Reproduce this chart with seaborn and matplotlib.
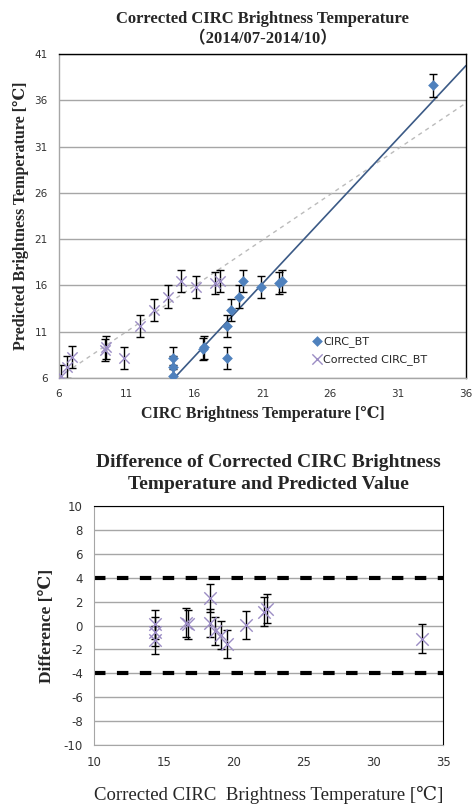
import numpy as np
import pandas as pd
import matplotlib
matplotlib.use("Agg")
import matplotlib.pyplot as plt
import seaborn as sns

# =====================
# DATA
# =====================
circ_x = [14.4, 14.4, 14.4, 16.6, 16.7, 18.35, 18.35, 18.7, 19.3, 19.55, 20.9, 22.2, 22.45, 33.55]
circ_y = [6.2, 7.2, 8.2, 9.1, 9.3, 8.2, 11.6, 13.35, 14.8, 16.45, 15.8, 16.3, 16.45, 37.6]

corr_x = [6.15, 6.57, 6.93, 9.4, 9.45, 10.77, 12.0, 12.99, 14.05, 14.96, 16.07, 17.5, 17.87]
corr_y = [6.2, 7.2, 8.3, 9.0, 9.3, 8.2, 11.6, 13.35, 14.8, 16.45, 15.8, 16.3, 16.45]

top_err = 1.2

# trend lines (slope, intercept)
circ_fit = (1.57, -16.77)
corr_fit = (0.987, 0.18)

diff_x = [14.4, 14.4, 14.4, 16.6, 16.7, 18.3, 18.3, 18.7, 19.1, 19.55, 20.9, 22.15, 22.4, 33.5]
diff_y = [0.1, -0.5, -1.2, 0.25, 0.1, 2.3, 0.2, -0.45, -0.8, -1.55, 0.05, 1.15, 1.4, -1.1]
diff_err = 1.2
limit = 4

top_xticks = [6, 11, 16, 21, 26, 31, 36]
top_yticks = [6, 11, 16, 21, 26, 31, 36, 41]
bot_xticks = [10, 15, 20, 25, 30, 35]
bot_yticks = list(range(-10, 11, 2))

# =====================
# STYLE
# =====================
sns.set_style("white")
plt.rcParams['font.family'] = ['DejaVu Sans']
plt.rcParams['axes.unicode_minus'] = False
serif = ['Liberation Serif', 'DejaVu Serif', 'Noto Sans CJK JP']
blue = "#4F81BD"
lav = "#9C8DC4"
tick_col = "#333333"

df_circ = pd.DataFrame({"x": circ_x, "y": circ_y})
df_corr = pd.DataFrame({"x": corr_x, "y": corr_y})
df_diff = pd.DataFrame({"x": diff_x, "y": diff_y})

fig = plt.figure(figsize=(4.73, 8.05), dpi=100)

# =====================
# TOP PLOT
# =====================
ax1 = fig.add_axes([0.1247, 0.5304, 0.8605, 0.4025])
for t in top_yticks:
    ax1.axhline(t, color="#A6A6A6", lw=1, zorder=0)

xl = np.array([6, 36])
ax1.plot(xl, corr_fit[0] * xl + corr_fit[1], color="#BBBBBB", lw=1, dashes=(3, 3), zorder=1)
ax1.plot(xl, circ_fit[0] * xl + circ_fit[1], color="#3B5A86", lw=1.2, zorder=1)

ax1.errorbar(df_circ["x"], df_circ["y"], yerr=top_err, fmt="none", ecolor="black",
             elinewidth=1, capsize=2.7, zorder=2)
ax1.errorbar(df_corr["x"], df_corr["y"], yerr=top_err, fmt="none", ecolor="black",
             elinewidth=1, capsize=2.7, zorder=2)
sns.scatterplot(data=df_circ, x="x", y="y", ax=ax1, marker="D", s=30, color=blue,
                edgecolor=blue, linewidth=0, label="CIRC_BT", zorder=3)
sns.scatterplot(data=df_corr, x="x", y="y", ax=ax1, marker="x", s=55, color=lav,
                linewidth=1, label="Corrected CIRC_BT", zorder=3)

ax1.set_xlim(6, 36)
ax1.set_ylim(6, 41)
ax1.set_xticks(top_xticks)
ax1.set_yticks(top_yticks)
ax1.tick_params(labelsize=7.5, colors=tick_col, length=0, pad=8)
ax1.set_xlabel("CIRC Brightness Temperature [℃]", family=serif, fontweight="bold", fontsize=11.5, labelpad=5)
ax1.set_ylabel("Predicted Brightness Temperature [℃]", family=serif, fontweight="bold", fontsize=11.5, labelpad=4)
ax1.set_title("Corrected CIRC Brightness Temperature\n（2014/07-2014/10）", family=serif,
              fontweight="bold", fontsize=12, pad=8, linespacing=1.35)
for s in ["top", "right"]:
    ax1.spines[s].set_color("black")
for s in ["left", "bottom"]:
    ax1.spines[s].set_color("#A6A6A6")
for s in ax1.spines.values():
    s.set_linewidth(1)
ax1.legend(loc="lower right", bbox_to_anchor=(0.93, 0.01), frameon=False, fontsize=8,
           handletextpad=0.0, labelspacing=0.6, handlelength=1.2)

# =====================
# BOTTOM PLOT
# =====================
ax2 = fig.add_axes([0.1987, 0.0745, 0.738, 0.2969])
for t in bot_yticks:
    ax2.axhline(t, color="#A6A6A6", lw=1, zorder=0)
ax2.axhline(limit, color="black", lw=3, dashes=(2.75, 2.75), zorder=1)
ax2.axhline(-limit, color="black", lw=3, dashes=(2.75, 2.75), zorder=1)

ax2.errorbar(df_diff["x"], df_diff["y"], yerr=diff_err, fmt="none", ecolor="black",
             elinewidth=1, capsize=3, zorder=2)
sns.scatterplot(data=df_diff, x="x", y="y", ax=ax2, marker="x", s=80, color=lav,
                linewidth=1, zorder=3, legend=False)

ax2.set_xlim(10, 35)
ax2.set_ylim(-10, 10)
ax2.set_xticks(bot_xticks)
ax2.set_yticks(bot_yticks)
ax2.tick_params(labelsize=8.5, colors=tick_col, length=0, pad=8)
ax2.set_xlabel("Corrected CIRC  Brightness Temperature [℃]", family=serif, fontsize=13.5, labelpad=12)
ax2.set_ylabel("Difference [℃]", family=serif, fontweight="bold", fontsize=12.5, labelpad=6)
ax2.set_title("Difference of Corrected CIRC Brightness\nTemperature and Predicted Value", family=serif,
              fontweight="bold", fontsize=14, pad=12, linespacing=1.45)
for s in ["top", "right"]:
    ax2.spines[s].set_color("black")
for s in ["left", "bottom"]:
    ax2.spines[s].set_color("#A6A6A6")

fig.savefig("out.png", dpi=100)
